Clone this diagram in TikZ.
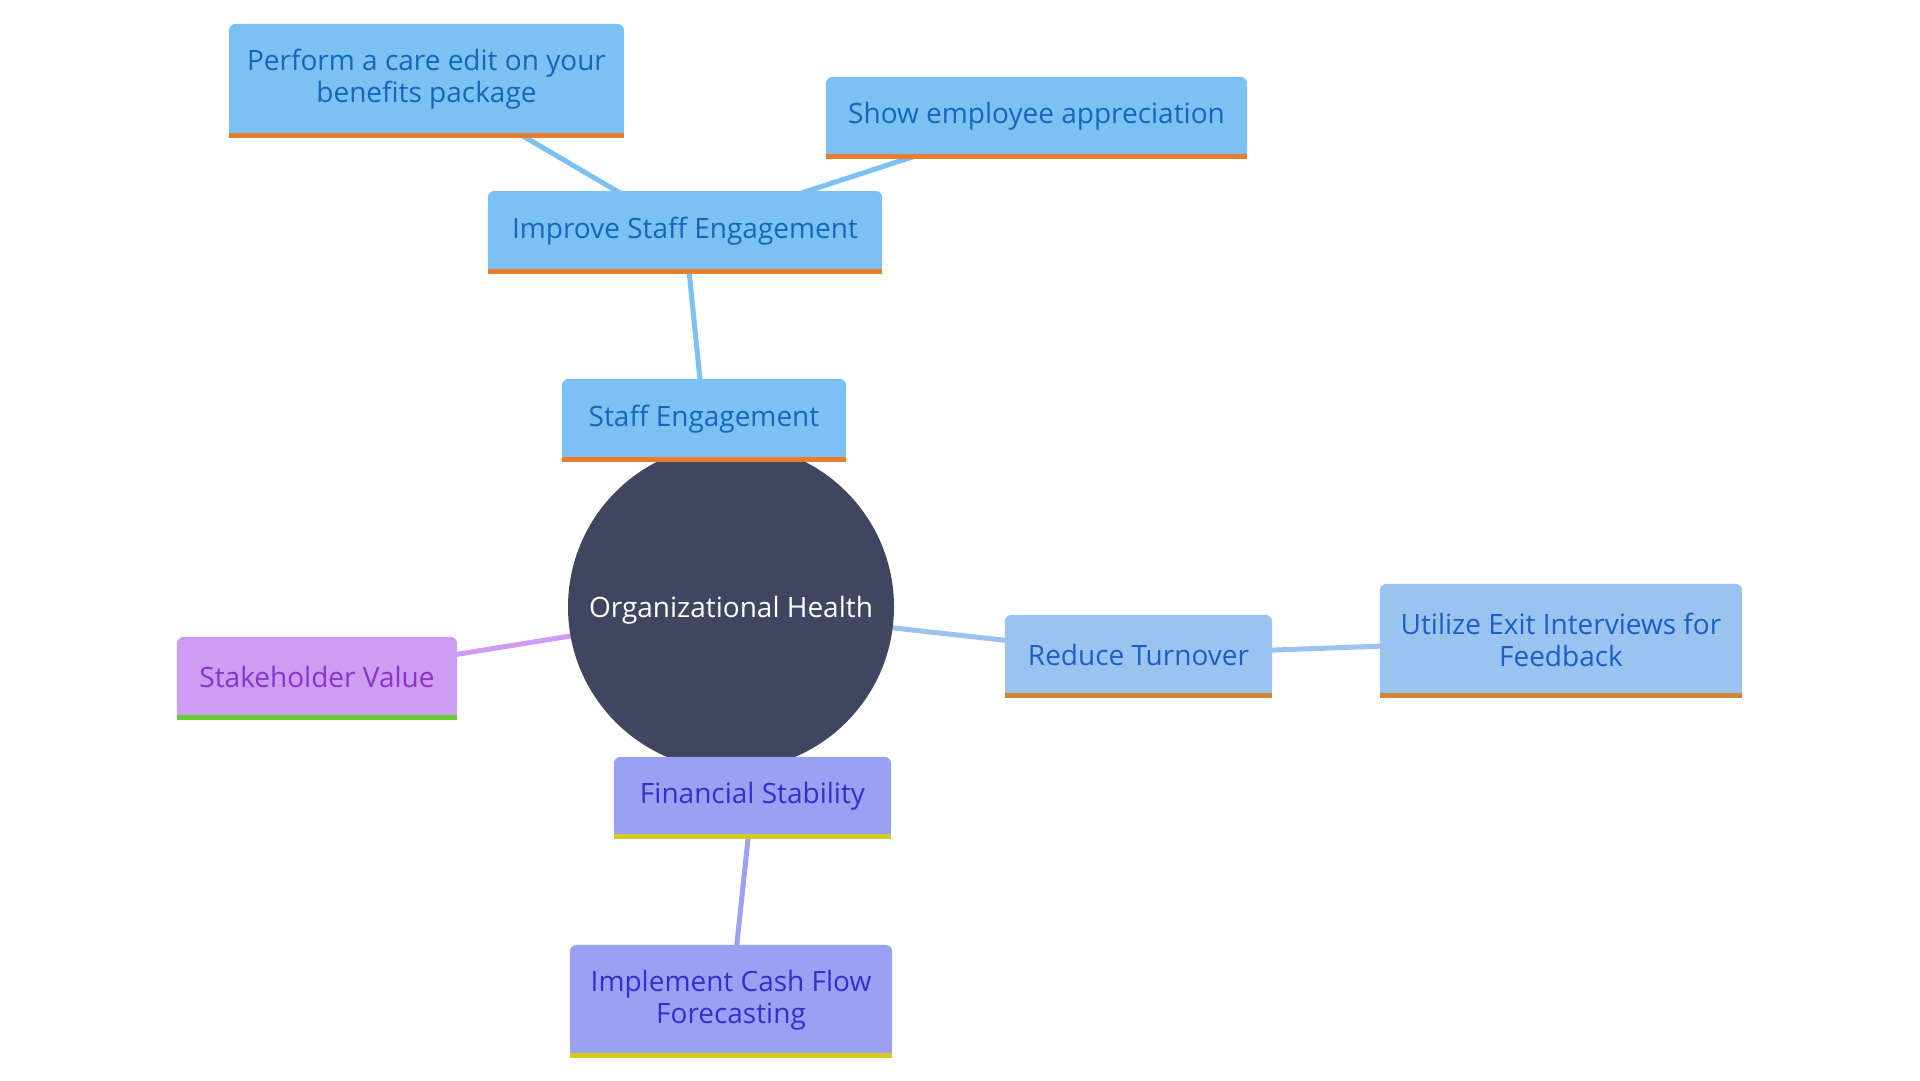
\documentclass[tikz,border=0pt]{standalone}
\usepackage{fontspec}
\setmainfont{Open Sans}
\pgfdeclarelayer{edges}
\pgfdeclarelayer{circ}
\pgfdeclarelayer{boxes}
\pgfsetlayers{edges,circ,boxes,main}
\definecolor{bfill}{HTML}{7CC1F3}
\definecolor{btext}{HTML}{1467BC}
\definecolor{bbar}{HTML}{E87D2B}
\definecolor{rfill}{HTML}{9AC3F0}
\definecolor{rtext}{HTML}{1C5FC4}
\definecolor{rbar}{HTML}{D2842E}
\definecolor{sfill}{HTML}{CE9CF2}
\definecolor{stext}{HTML}{8A34CC}
\definecolor{sbar}{HTML}{6ACB2E}
\definecolor{ffill}{HTML}{9AA0F2}
\definecolor{ftext}{HTML}{3330CC}
\definecolor{fbar}{HTML}{D6C921}
\definecolor{cfill}{HTML}{414660}
\newcommand\mmbox[3]{%
  \begin{pgfonlayer}{boxes}
  \fill[#2,rounded corners=7pt] (#1.south west) rectangle ([yshift=2pt]#1.north east);
  \fill[#2] (#1.south west) rectangle (#1.east);
  \fill[#3] (#1.south west) rectangle ([yshift=-5pt]#1.south east);
  \end{pgfonlayer}}
\tikzset{
  mnode/.style={inner sep=0pt, align=center, font=\fontsize{28}{32}\selectfont},
  link/.style={line width=5pt},
}
\begin{document}
\begin{tikzpicture}[x=1pt,y=-1pt]
\useasboundingbox (0,0) rectangle (1920,1080);
\node[mnode, minimum width=395pt, minimum height=107pt, text=btext] (perf) at (426.5,79.5) {Perform a care edit on your\\benefits package};
\node[mnode, minimum width=421pt, minimum height=75pt, text=btext] (show) at (1036.5,116.5) {Show employee appreciation};
\node[mnode, minimum width=394pt, minimum height=76pt, text=btext] (impr) at (685,231) {Improve Staff Engagement};
\node[mnode, minimum width=284pt, minimum height=76pt, text=btext] (staff) at (704,419) {Staff Engagement};
\node[mnode, circle, minimum size=326pt, text=white] (org) at (731,610) {Organizational Health};
\node[mnode, minimum width=280pt, minimum height=76pt, text=stext] (stake) at (317,677) {Stakeholder Value};
\node[mnode, minimum width=267pt, minimum height=76pt, text=rtext] (red) at (1138.5,655) {Reduce Turnover};
\node[mnode, minimum width=362pt, minimum height=107pt, text=rtext] (util) at (1561,639.5) {Utilize Exit Interviews for\\Feedback};
\node[mnode, minimum width=277pt, minimum height=75pt, text=ftext] (fin) at (752.5,796.5) {Financial Stability};
\node[mnode, minimum width=322pt, minimum height=106pt, text=ftext] (impl) at (731,1000) {Implement Cash Flow\\Forecasting};
\begin{pgfonlayer}{circ}
\fill[cfill] ([yshift=3pt]org.center) circle (163pt);
\end{pgfonlayer}
\begin{pgfonlayer}{edges}
\draw[link, bfill] (org.center) -- (staff.center);
\draw[link, bfill] (staff.center) -- (impr.center);
\draw[link, bfill] (impr.center) -- (perf.center);
\draw[link, bfill] (impr.center) -- (show.center);
\draw[link, rfill] (org.center) -- (red.center);
\draw[link, rfill] (red.center) -- (util.center);
\draw[link, sfill] (org.center) -- (stake.center);
\draw[link, ffill] (org.center) -- (fin.center);
\draw[link, ffill] (fin.center) -- (impl.center);
\end{pgfonlayer}
\mmbox{perf}{bfill}{bbar}
\mmbox{show}{bfill}{bbar}
\mmbox{impr}{bfill}{bbar}
\mmbox{staff}{bfill}{bbar}
\mmbox{stake}{sfill}{sbar}
\mmbox{red}{rfill}{rbar}
\mmbox{util}{rfill}{rbar}
\mmbox{fin}{ffill}{fbar}
\mmbox{impl}{ffill}{fbar}
\end{tikzpicture}
\end{document}
